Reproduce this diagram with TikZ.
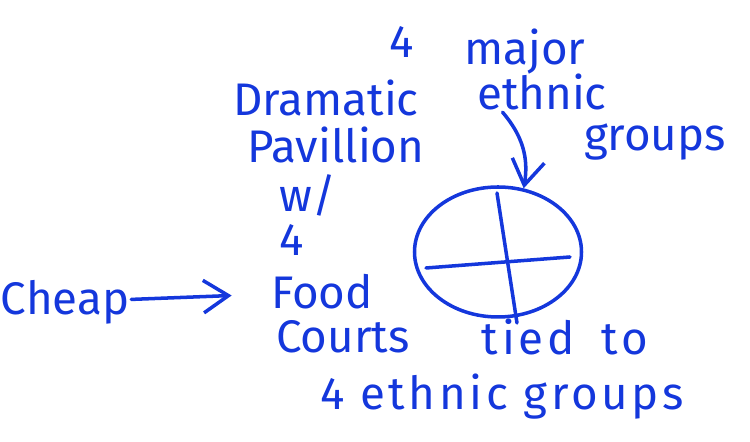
\documentclass[tikz,border=0pt]{standalone}
\usepackage{fontspec}
\setmainfont{Fira Sans}
\newfontfamily\widehand[LetterSpace=8]{Fira Sans}
\usetikzlibrary{shapes.geometric,arrows.meta}
\definecolor{pen}{RGB}{20,55,220}
\tikzset{
  scrawl/.style={pen, font=\fontsize{26}{30}\selectfont, inner sep=1pt},
  widescrawl/.style={scrawl, font=\fontsize{26}{30}\widehand},
  stroke/.style={pen, line width=2pt, line cap=round},
  pentip/.style={-{Straight Barb[length=5mm,width=6.5mm,line width=2pt]}}
}
\begin{document}
\begin{tikzpicture}
    \useasboundingbox (0,0) rectangle (15,8.84);

    % Label above the circle
    \node[scrawl] (four) at (8.04, 8.0) {4};
    \node[scrawl] (major) at (10.5, 7.8) {major};
    \node[scrawl] (ethnic) at (10.84, 7.0) {ethnic};
    \node[scrawl] (groups) at (13.1, 6.0) {groups};

    % The pavilion column
    \node[scrawl] (dramatic) at (6.52, 6.88) {Dramatic};
    \node[scrawl] (pavillion) at (6.72, 5.94) {Pavillion};
    \node[scrawl] (with) at (6.16, 4.94) {w/};
    \node[scrawl] (count) at (5.84, 4.04) {4};
    \node[scrawl] (food) at (6.44, 3.0) {Food};
    \node[scrawl] (courts) at (6.86, 2.1) {Courts};
    \node[widescrawl] (tied) at (11.3, 2.1) {tied\hspace{0.6em}to};
    \node[widescrawl] (groupsb) at (10.04, 0.9) {4 ethnic groups};

    % Cheap, pointing at the food
    \node[scrawl] (cheap) at (1.3, 2.8) {Cheap};
    \draw[stroke, pentip, shorten >=0.75cm] (cheap) -- (food);

    % Circle cut into four
    \node[stroke, draw, ellipse, minimum width=3.34cm, minimum height=2.6cm] (court) at (9.96, 3.8) {};
    \coordinate (cw) at (8.52, 3.48);
    \coordinate (ce) at (11.4, 3.7);
    \coordinate (cn) at (9.94, 4.98);
    \coordinate (cs) at (10.34, 2.38);
    \draw[stroke] (cw) -- (ce);
    \draw[stroke] (cn) -- (cs);

    % Arrow from the label down to the circle
    \draw[stroke, pentip] ([xshift=0.55cm]ethnic.south west) to[bend left=25] (court.68);
\end{tikzpicture}
\end{document}
